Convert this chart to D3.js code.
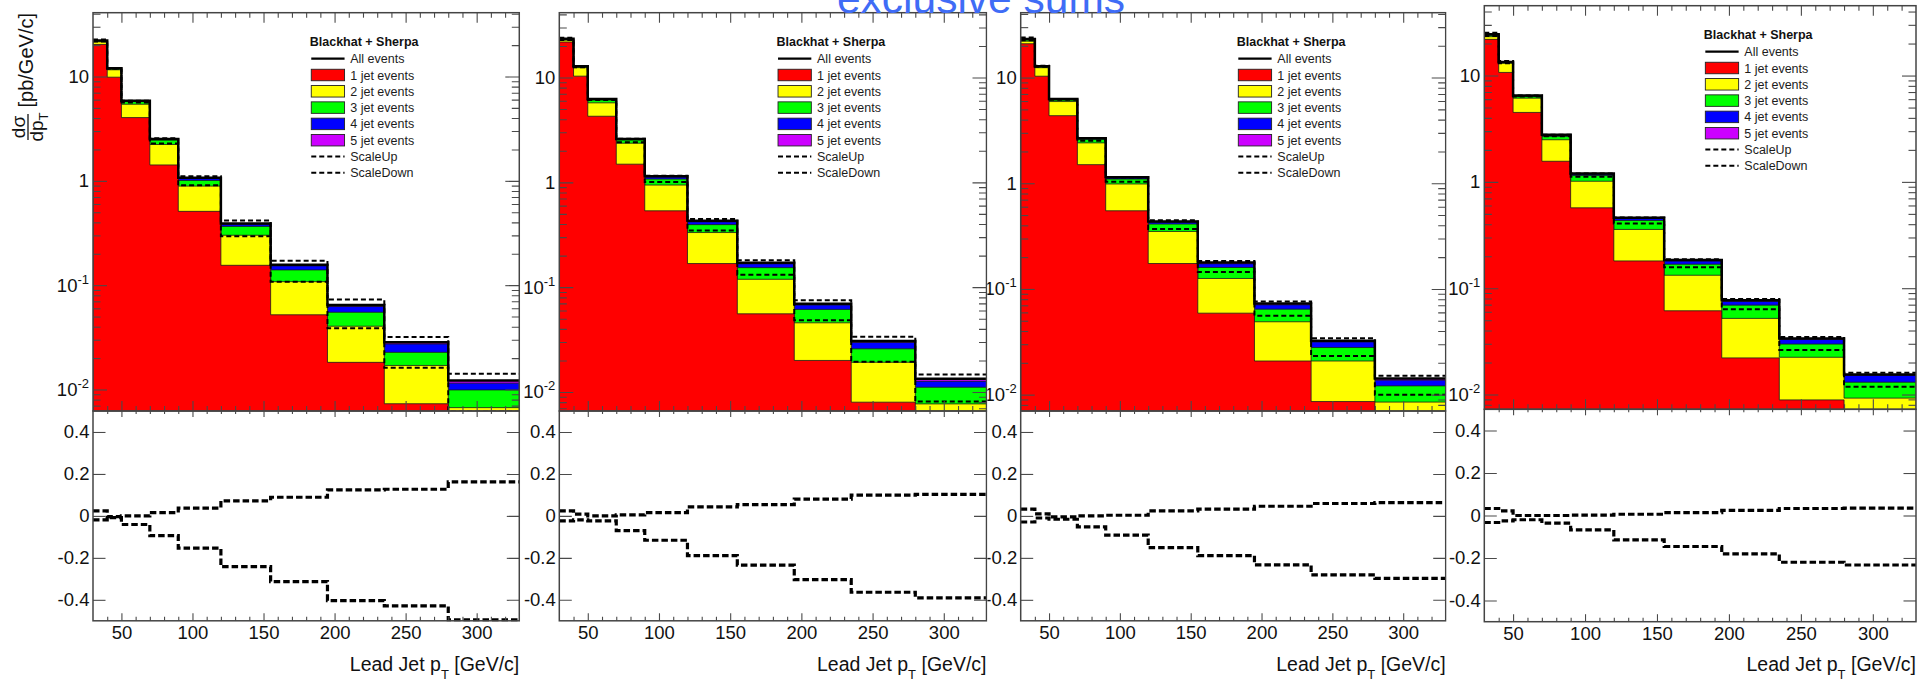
<!DOCTYPE html>
<html>
<head>
<meta charset="utf-8">
<script src="https://d3js.org/d3.v7.min.js"></script>
<style>
  body { margin: 0; background: #fff; }
  svg { display: block; }
  text { font-family: "Liberation Sans", Arial, Helvetica, sans-serif; }
</style>
</head>
<body>
<svg id="chart" width="1919" height="681"></svg>
<script>

// lead jet pT bins [GeV/c]
var binEdges = [30, 40, 50, 70, 90, 120, 155, 195, 235, 280, 330];

// d(sigma)/dpT per jet multiplicity, one row per panel
var jet1 = [
    [20.3, 9.85, 4.04, 1.42, 0.51, 0.155, 0.052, 0.0182, 0.0073, 0.0056],
    [21.8, 10.3, 4.27, 1.49, 0.535, 0.168, 0.0557, 0.020, 0.0080, 0.0060],
    [20.9, 10.3, 4.36, 1.50, 0.549, 0.174, 0.059, 0.0208, 0.0086, 0.0065],
    [21.9, 10.7, 4.50, 1.563, 0.57, 0.1805, 0.0613, 0.0221, 0.0089, 0.0070]
];
var jet2 = [
    [1.2, 1.75, 1.38, 0.81, 0.38, 0.146, 0.056, 0.0222, 0.0097, 0.0011],
    [0.9, 2.1, 1.46, 0.87, 0.407, 0.164, 0.0632, 0.0257, 0.0112, 0.0017],
    [1.2, 2.1, 1.57, 0.91, 0.435, 0.176, 0.0666, 0.0281, 0.0122, 0.0020],
    [1.3, 2.35, 1.63, 0.927, 0.444, 0.1765, 0.0711, 0.0299, 0.0135, 0.00225]
];
var jet3 = [
    [0.4, 0.3, 0.33, 0.23, 0.12, 0.065, 0.032, 0.0146, 0.0057, 0.0032],
    [0.45, 0.3, 0.40, 0.18, 0.132, 0.063, 0.0346, 0.0157, 0.0066, 0.0034],
    [0.7, 0.3, 0.25, 0.2, 0.112, 0.061, 0.034, 0.0155, 0.0071, 0.0036],
    [0.7, 0.25, 0.27, 0.19, 0.132, 0.077, 0.0356, 0.0173, 0.0074, 0.0038]
];
var jet4 = [
    [0.15, 0.08, 0.1, 0.05, 0.045, 0.017, 0.013, 0.0074, 0.0046, 0.0016],
    [0.18, 0.08, 0.10, 0.04, 0.05, 0.025, 0.0135, 0.0062, 0.0039, 0.00155],
    [0.3, 0.08, 0.08, 0.04, 0.032, 0.018, 0.0135, 0.0063, 0.0036, 0.0016],
    [0.35, 0.08, 0.07, 0.08, 0.04, 0.019, 0.0125, 0.0059, 0.0031, 0.0021]
];
var jet5 = [
    [0.05, 0.02, 0.02, 0.01, 0.015, 0.006, 0.004, 0.0023, 0.001, 0.0007],
    [0.07, 0.02, 0.02, 0.01, 0.016, 0.009, 0.0044, 0.0019, 0.0009, 0.0007],
    [0.1, 0.02, 0.02, 0.01, 0.01, 0.0065, 0.0049, 0.0021, 0.0008, 0.0005],
    [0.15, 0.02, 0.02, 0.02, 0.011, 0.0067, 0.004, 0.002, 0.0008, 0.0003]
];

var scaleUpRatio = [
    [0.024, -0.003, 0.0, 0.016, 0.037, 0.072, 0.089, 0.124, 0.127, 0.162],
    [0.024, 0.008, 0.0, 0.005, 0.016, 0.043, 0.054, 0.080, 0.099, 0.103],
    [0.032, 0.01, -0.005, 0.0, 0.003, 0.024, 0.032, 0.046, 0.059, 0.063],
    [0.033, 0.022, 0.0, 0.0, 0.002, 0.006, 0.014, 0.024, 0.033, 0.035]
];
var scaleDownRatio = [
    [-0.019, -0.008, -0.041, -0.094, -0.154, -0.242, -0.313, -0.404, -0.429, -0.495],
    [-0.024, -0.019, -0.024, -0.070, -0.116, -0.189, -0.235, -0.304, -0.364, -0.391],
    [-0.029, -0.01, -0.016, -0.052, -0.092, -0.151, -0.189, -0.233, -0.281, -0.298],
    [-0.033, -0.025, -0.020, -0.036, -0.068, -0.115, -0.146, -0.181, -0.220, -0.233]
];

var yLogRange = [[0.00622, 40.9], [0.00659, 41.5], [0.0070, 41.1], [0.00726, 45.4]];
var xRange = [30, 330];
var ratioRange = [-0.5, 0.5];
var xTicks = [50, 100, 150, 200, 250, 300];
var logTicks = [0.01, 0.1, 1, 10];
var ratioTicks = [-0.4, -0.2, 0, 0.2, 0.4];
var legendTitle = "Blackhat + Sherpa";
var legendLabels = ["All events", "1 jet events", "2 jet events", "3 jet events",
    "4 jet events", "5 jet events", "ScaleUp", "ScaleDown"];

var stackColors = ["#ff0000", "#ffff00", "#00ff00", "#0000ff", "#cc00ff"];

// pixel boxes of the four pasted plots
var layout = [
    { left: 93, right: 519.3, top: 12.7, mid: 411, bottom: 620.8, clipL: 0, clipR: 520.3 },
    { left: 559.3, right: 986.5, top: 12.7, mid: 411, bottom: 620.8, clipL: 520.3, clipR: 987.4 },
    { left: 1020.7, right: 1445.7, top: 12.7, mid: 411, bottom: 620.8, clipL: 987.4, clipR: 1446.6 },
    { left: 1484.3, right: 1916, top: 5.7, mid: 409.3, bottom: 621.7, clipL: 1446.6, clipR: 1919 }
];

var svg = d3.select("#chart");
var defs = svg.append("defs");

function addClip(id, x, y, w, h) {
    defs.append("clipPath").attr("id", id).append("rect")
        .attr("x", x).attr("y", y).attr("width", w).attr("height", h);
    return "url(#" + id + ")";
}

function stepPoints(values) {
    var pts = values.map(function (v, i) { return [binEdges[i], v]; });
    pts.push([binEdges[binEdges.length - 1], values[values.length - 1]]);
    return pts;
}

function addAxis(parent, axis, tx, ty) {
    var a = parent.append("g")
        .attr("transform", "translate(" + tx + "," + ty + ")")
        .call(axis);
    a.select(".domain").remove();
    a.attr("font-family", null).attr("font-size", 18.5);
    a.selectAll("line").attr("stroke", "#4a4a4a").attr("stroke-width", 1.1);
    a.selectAll("text").attr("fill", "#111");
    return a;
}

function drawPanel(p) {
    var L = layout[p];
    var g = svg.append("g").attr("clip-path", addClip("pc" + p, L.clipL, 0, L.clipR - L.clipL, 681));

    var x = d3.scaleLinear().domain(xRange).range([L.left, L.right]);
    var y = d3.scaleLog().domain(yLogRange[p]).range([L.mid, L.top]);
    var r = d3.scaleLinear().domain(ratioRange).range([L.bottom, L.mid]);

    // cumulative stack: red, +yellow, +green, +blue, +violet
    var layers = [jet1[p], jet2[p], jet3[p], jet4[p], jet5[p]];
    var cum = [];
    var run = layers[0].map(function () { return 0; });
    layers.forEach(function (l) {
        run = run.map(function (v, i) { return v + l[i]; });
        cum.push(run);
    });
    var total = cum[4];
    var up = total.map(function (v, i) { return v * (1 + scaleUpRatio[p][i]); });
    var down = total.map(function (v, i) { return v * (1 + scaleDownRatio[p][i]); });

    var area = d3.area().curve(d3.curveStepAfter)
        .x(function (d) { return x(d[0]); })
        .y0(L.mid + 10)
        .y1(function (d) { return y(d[1]); });
    var line = d3.line().curve(d3.curveStepAfter)
        .x(function (d) { return x(d[0]); })
        .y(function (d) { return y(d[1]); });
    var rline = d3.line().curve(d3.curveStepAfter)
        .x(function (d) { return x(d[0]); })
        .y(function (d) { return r(d[1]); });

    // upper pad
    var upper = g.append("g").attr("clip-path", addClip("uc" + p, L.left, L.top, L.right - L.left, L.mid - L.top));
    for (var k = 4; k >= 0; k--) {
        upper.append("path")
            .attr("d", area(stepPoints(cum[k])))
            .attr("fill", stackColors[k])
            .attr("stroke", "#1a1a1a")
            .attr("stroke-width", 0.8);
    }
    upper.append("path").attr("d", line(stepPoints(total)))
        .attr("fill", "none").attr("stroke", "#000").attr("stroke-width", 2.5);
    [up, down].forEach(function (s) {
        upper.append("path").attr("d", line(stepPoints(s)))
            .attr("fill", "none").attr("stroke", "#000")
            .attr("stroke-width", 2).attr("stroke-dasharray", "5,3");
    });

    // lower pad ratios
    var lower = g.append("g").attr("clip-path", addClip("lc" + p, L.left, L.mid, L.right - L.left, L.bottom - L.mid + 2));
    [scaleUpRatio[p], scaleDownRatio[p]].forEach(function (s) {
        lower.append("path").attr("d", rline(stepPoints(s)))
            .attr("fill", "none").attr("stroke", "#000")
            .attr("stroke-width", 3.2).attr("stroke-dasharray", "6.5,3");
    });

    // ticks
    var minorX = d3.range(40, 330, 10).filter(function (v) { return v % 50 !== 0; });
    var dom = yLogRange[p];
    var minorLog = [];
    [0.001, 0.01, 0.1, 1, 10].forEach(function (d) {
        for (var m = 2; m <= 9; m++) { if (d * m > dom[0] && d * m < dom[1]) minorLog.push(d * m); }
    });

    addAxis(g, d3.axisTop(x).tickValues(xTicks).tickSize(-10).tickFormat(""), 0, L.top);
    addAxis(g, d3.axisTop(x).tickValues(minorX).tickSize(-5).tickFormat(""), 0, L.top);
    addAxis(g, d3.axisBottom(x).tickValues(xTicks).tickSize(-10).tickFormat(""), 0, L.mid);
    addAxis(g, d3.axisBottom(x).tickValues(minorX).tickSize(-5).tickFormat(""), 0, L.mid);
    addAxis(g, d3.axisTop(x).tickValues(xTicks).tickSize(-6).tickFormat(""), 0, L.mid);
    addAxis(g, d3.axisTop(x).tickValues(minorX).tickSize(-3).tickFormat(""), 0, L.mid);
    addAxis(g, d3.axisBottom(x).tickValues(xTicks).tickSize(-7.5).tickPadding(5)
        .tickFormat(function (d) { return String(d); }), 0, L.bottom);
    addAxis(g, d3.axisBottom(x).tickValues(minorX).tickSize(-4).tickFormat(""), 0, L.bottom);

    var yl = addAxis(g, d3.axisLeft(y).tickValues(logTicks).tickSize(-14).tickPadding(4), L.left, 0);
    yl.selectAll("text").each(function (d) {
        var e = Math.round(Math.log10(d));
        var t = d3.select(this).text(null);
        if (e >= 0) {
            t.text(String(Math.pow(10, e)));
        } else {
            t.append("tspan").text("10");
            t.append("tspan").attr("dy", -8).attr("font-size", 13).text(String(e));
        }
    });
    addAxis(g, d3.axisLeft(y).tickValues(minorLog).tickSize(-7.5).tickFormat(""), L.left, 0);
    addAxis(g, d3.axisRight(y).tickValues(logTicks).tickSize(-14).tickFormat(""), L.right, 0);
    addAxis(g, d3.axisRight(y).tickValues(minorLog).tickSize(-7.5).tickFormat(""), L.right, 0);

    addAxis(g, d3.axisLeft(r).tickValues(ratioTicks).tickSize(-12.5).tickPadding(3.5)
        .tickFormat(function (d) { return String(d); }), L.left, 0);
    addAxis(g, d3.axisRight(r).tickValues(ratioTicks).tickSize(-12.5).tickFormat(""), L.right, 0);

    // frames
    g.append("rect").attr("x", L.left).attr("y", L.top)
        .attr("width", L.right - L.left).attr("height", L.mid - L.top)
        .attr("fill", "none").attr("stroke", "#444").attr("stroke-width", 1.5);
    g.append("rect").attr("x", L.left).attr("y", L.mid)
        .attr("width", L.right - L.left).attr("height", L.bottom - L.mid)
        .attr("fill", "none").attr("stroke", "#444").attr("stroke-width", 1.5);

    // x title
    var xt = g.append("text").attr("x", L.right).attr("y", 671)
        .attr("text-anchor", "end").attr("font-size", 19.5).attr("fill", "#111");
    xt.append("tspan").text("Lead Jet p");
    xt.append("tspan").attr("dy", 8).attr("font-size", 13).text("T");
    xt.append("tspan").attr("dy", -8).text(" [GeV/c]");

    // legend
    var lx = L.left + 0.512 * (L.right - L.left);
    var leg = g.append("g");
    leg.append("text").attr("x", lx - 1.5).attr("y", L.top + 33)
        .attr("font-size", 12.5).attr("font-weight", "bold").attr("fill", "#111")
        .text(legendTitle);
    legendLabels.forEach(function (lab, i) {
        var ry = L.top + 46 + i * 16.3;
        if (i === 0) {
            leg.append("line").attr("x1", lx).attr("x2", lx + 33.3).attr("y1", ry).attr("y2", ry)
                .attr("stroke", "#000").attr("stroke-width", 2.2);
        } else if (i <= 5) {
            leg.append("rect").attr("x", lx).attr("y", ry - 5.75).attr("width", 33.3).attr("height", 11.5)
                .attr("fill", stackColors[i - 1]).attr("stroke", "#222").attr("stroke-width", 0.9);
        } else {
            leg.append("line").attr("x1", lx).attr("x2", lx + 33.3).attr("y1", ry).attr("y2", ry)
                .attr("stroke", "#000").attr("stroke-width", 2).attr("stroke-dasharray", "5,3");
        }
        leg.append("text").attr("x", lx + 39).attr("y", ry + 4.5)
            .attr("font-size", 12.5).attr("fill", "#1c1c1c").text(lab);
    });

    if (p === 0) {
        // y title, rotated
        var yt = g.append("g").attr("transform", "rotate(-90)").attr("fill", "#111");
        yt.append("text").attr("x", -13).attr("y", 32.5).attr("text-anchor", "end")
            .attr("font-size", 20).text("[pb/GeV/c]");
        yt.append("text").attr("x", -127).attr("y", 25).attr("text-anchor", "middle")
            .attr("font-size", 19).text("dσ");
        yt.append("line").attr("x1", -140).attr("x2", -114).attr("y1", 28).attr("y2", 28)
            .attr("stroke", "#111").attr("stroke-width", 1.3);
        var den = yt.append("text").attr("x", -127).attr("y", 43).attr("text-anchor", "middle")
            .attr("font-size", 19);
        den.append("tspan").text("dp");
        den.append("tspan").attr("dy", 5).attr("font-size", 13).text("T");
    }
}

layout.forEach(function (L, p) { drawPanel(p); });

svg.append("text").attr("x", 981).attr("y", 13.3).attr("text-anchor", "middle")
    .attr("font-size", 42.5).attr("fill", "#3f6cf6").text("exclusive sums");

</script>
</body>
</html>
